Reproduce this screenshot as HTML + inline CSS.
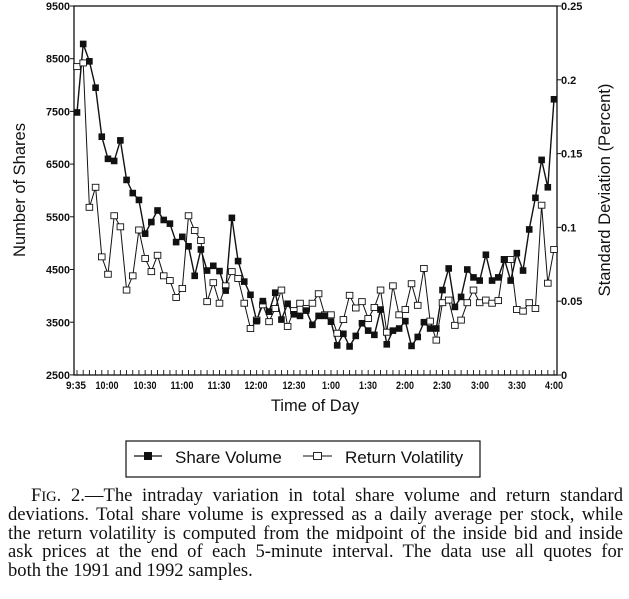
<!DOCTYPE html>
<html><head><meta charset="utf-8">
<style>
html,body{margin:0;padding:0;background:#fff;}
body{width:629px;height:599px;overflow:hidden;position:relative;}
svg{position:absolute;left:0;top:0;}
.cap{position:absolute;left:8px;top:487px;width:615px;font-family:"Liberation Serif",serif;font-size:18.6px;line-height:18.8px;color:#111;}
.cap div{text-align:justify;text-align-last:justify;white-space:nowrap;height:18.8px;}
.cap div.last{text-align-last:left;}
</style></head><body>
<svg id="s" width="629" height="599" xmlns="http://www.w3.org/2000/svg" font-family="Liberation Sans, sans-serif">
<rect x="74" y="6" width="483" height="369" fill="none" stroke="#111" stroke-width="1.3"/>
<g font-size="11" fill="#111" text-anchor="end" font-weight="bold">
<text x="70" y="10" textLength="24" lengthAdjust="spacingAndGlyphs">9500</text>
<text x="70" y="62.7" textLength="24" lengthAdjust="spacingAndGlyphs">8500</text>
<text x="70" y="115.4" textLength="24" lengthAdjust="spacingAndGlyphs">7500</text>
<text x="70" y="168.1" textLength="24" lengthAdjust="spacingAndGlyphs">6500</text>
<text x="70" y="220.9" textLength="24" lengthAdjust="spacingAndGlyphs">5500</text>
<text x="70" y="273.6" textLength="24" lengthAdjust="spacingAndGlyphs">4500</text>
<text x="70" y="326.3" textLength="24" lengthAdjust="spacingAndGlyphs">3500</text>
<text x="70" y="379" textLength="24" lengthAdjust="spacingAndGlyphs">2500</text>
</g>
<g font-size="11" fill="#111" text-anchor="start" font-weight="bold">
<text x="561" y="10">0.25</text>
<text x="561" y="83.8">0.2</text>
<text x="561" y="157.6">0.15</text>
<text x="561" y="231.4">0.1</text>
<text x="561" y="305.2">0.05</text>
<text x="561" y="379">0</text>
</g>
<g font-size="11" fill="#111" text-anchor="middle" font-weight="bold">
<text x="76" y="389" textLength="20" lengthAdjust="spacingAndGlyphs">9:35</text>
<text x="107" y="389" textLength="23" lengthAdjust="spacingAndGlyphs">10:00</text>
<text x="145" y="389" textLength="23" lengthAdjust="spacingAndGlyphs">10:30</text>
<text x="182" y="389" textLength="23" lengthAdjust="spacingAndGlyphs">11:00</text>
<text x="219" y="389" textLength="23" lengthAdjust="spacingAndGlyphs">11:30</text>
<text x="256" y="389" textLength="23" lengthAdjust="spacingAndGlyphs">12:00</text>
<text x="294" y="389" textLength="23" lengthAdjust="spacingAndGlyphs">12:30</text>
<text x="331" y="389" textLength="18" lengthAdjust="spacingAndGlyphs">1:00</text>
<text x="368" y="389" textLength="18" lengthAdjust="spacingAndGlyphs">1:30</text>
<text x="405" y="389" textLength="18" lengthAdjust="spacingAndGlyphs">2:00</text>
<text x="442" y="389" textLength="18" lengthAdjust="spacingAndGlyphs">2:30</text>
<text x="480" y="389" textLength="18" lengthAdjust="spacingAndGlyphs">3:00</text>
<text x="517" y="389" textLength="18" lengthAdjust="spacingAndGlyphs">3:30</text>
<text x="554" y="389" textLength="18" lengthAdjust="spacingAndGlyphs">4:00</text>
</g>
<text x="315" y="411" font-size="16.5" text-anchor="middle" fill="#111">Time of Day</text>
<text transform="translate(25,190) rotate(-90)" font-size="16.5" text-anchor="middle" fill="#111">Number of Shares</text>
<text transform="translate(610,190) rotate(-90)" font-size="16.5" text-anchor="middle" fill="#111">Standard Deviation (Percent)</text>
<rect x="126" y="441" width="354" height="36" fill="none" stroke="#111" stroke-width="1.2"/>
<line x1="134" y1="456" x2="162" y2="456" stroke="#111" stroke-width="1.3"/>
<rect x="144" y="452" width="8" height="8" fill="#111"/>
<text x="175" y="463" font-size="17" fill="#111">Share Volume</text>
<line x1="303" y1="456" x2="332" y2="456" stroke="#111" stroke-width="1"/>
<rect x="313.5" y="452.5" width="8" height="7" fill="#fff" stroke="#111" stroke-width="0.9"/>
<text x="345" y="463" font-size="17" fill="#111">Return Volatility</text>
<g id="g"></g>
</svg>
<div class="cap">
<div><span style="padding-left:23px"></span>F<span style="font-size:14.5px">IG</span>. 2.—The intraday variation in total share volume and return standard</div>
<div>deviations. Total share volume is expressed as a daily average per stock, while</div>
<div>the return volatility is computed from the midpoint of the inside bid and inside</div>
<div>ask prices at the end of each 5-minute interval. The data use all quotes for</div>
<div class="last">both the 1991 and 1992 samples.</div>
</div>
<script>
var vol=[7480,8780,8450,7950,7020,6600,6560,6950,6200,5950,5820,5180,5400,5620,5440,5370,5020,5120,4940,4380,4880,4480,4570,4470,4100,5480,4660,4270,4020,3520,3900,3700,4060,3550,3850,3650,3620,3720,3450,3620,3620,3510,3060,3280,3040,3240,3480,3340,3260,3740,3080,3340,3380,3520,3050,3220,3500,3380,3380,4110,4520,3790,3980,4500,4350,4290,4780,4290,4350,4690,4290,4810,4480,5260,5860,6580,6060,7730];
var vl=[8350,8420,5680,6060,4740,4410,5520,5310,4110,4380,5250,4710,4460,4770,4380,4290,3970,4140,5520,5240,5050,3890,4250,3860,4190,4460,4330,3860,3380,3540,3830,3510,3760,4110,3420,3720,3860,3760,3860,4040,3640,3640,3290,3550,4010,3770,3890,3570,3780,4110,3310,4190,3640,3740,4230,3820,4520,3520,3160,3870,3920,3440,3540,3870,4110,3870,3920,3860,3910,4690,4690,3740,3710,3870,3760,5720,4240,4880];
function X(i){return 77+6.195*i;}
function Y(v){return 6+(9500-v)*0.0527;}
var h='';
for(var i=0;i<78;i++){h+='<line x1="'+X(i)+'" y1="375" x2="'+X(i)+'" y2="370" stroke="#111" stroke-width="0.9"/>';}
for(var k=0;k<8;k++){var y=6+k*52.7;h+='<line x1="70" y1="'+y+'" x2="74" y2="'+y+'" stroke="#111"/>';}
for(var k=0;k<6;k++){var y=6+k*73.8;h+='<line x1="557" y1="'+y+'" x2="561" y2="'+y+'" stroke="#111"/>';}
function pl(a,w){var p=a.map(function(v,i){return X(i).toFixed(1)+','+Y(v).toFixed(1)}).join(' ');return '<polyline points="'+p+'" fill="none" stroke="#111" stroke-width="'+w+'"/>';}
h+=pl(vl,1);h+=pl(vol,1.4);
vl.forEach(function(v,i){h+='<rect x="'+(X(i)-3.3)+'" y="'+(Y(v)-3)+'" width="6.6" height="6" fill="#fff" stroke="#111" stroke-width="0.9"/>';});
vol.forEach(function(v,i){h+='<rect x="'+(X(i)-3.3)+'" y="'+(Y(v)-3.3)+'" width="6.6" height="6.6" fill="#111"/>';});
document.getElementById('g').innerHTML=h;
</script>
</body></html>
